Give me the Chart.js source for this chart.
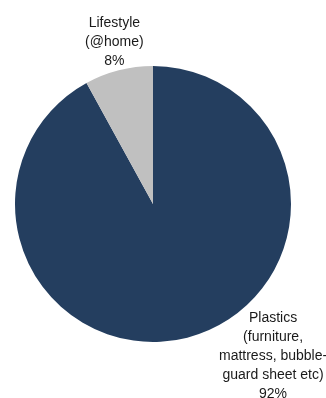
<!DOCTYPE html>
<html>
<head>
<meta charset="utf-8">
<script src="https://cdn.jsdelivr.net/npm/chart.js@4/dist/chart.umd.min.js"></script>
<style>
  html, body { margin: 0; padding: 0; background: #fff; }
  #wrap { width: 326px; height: 398px; }
</style>
</head>
<body>
<div id="wrap"><canvas id="pie" width="326" height="398"></canvas></div>
<script>
const categories = ['Plastics', 'Lifestyle']
const shares = [92, 8]
const labelLines = [
  ['Plastics', '(furniture,', 'mattress, bubble-', 'guard sheet etc)'],
  ['Lifestyle', '(@home)']
]
const sliceColors = ['#243E5F', '#C0C0C0']

// label block centres, in units of the pie radius from the pie centre
const labelAnchors = [
  { dx: 0.87, dy: 1.1 },
  { dx: -0.28, dy: -1.17 }
]

const sliceLabels = {
  id: 'sliceLabels',
  afterDatasetsDraw(chart) {
    const ctx = chart.ctx
    const meta = chart.getDatasetMeta(0)
    ctx.save()
    ctx.font = '14px "Liberation Sans", Arial, sans-serif'
    ctx.fillStyle = '#1a1a1a'
    ctx.textAlign = 'center'
    ctx.textBaseline = 'middle'
    const lineH = 19
    meta.data.forEach((arc, i) => {
      const r = arc.outerRadius
      const cx = arc.x + labelAnchors[i].dx * r
      const cy = arc.y + labelAnchors[i].dy * r
      const lines = labelLines[i].concat([shares[i] + '%'])
      const top = cy - (lines.length - 1) * lineH / 2
      lines.forEach((t, j) => ctx.fillText(t, cx, top + j * lineH))
    })
    ctx.restore()
  }
}

new Chart(document.getElementById('pie'), {
  type: 'pie',
  data: {
    labels: categories,
    datasets: [{
      data: shares,
      backgroundColor: sliceColors,
      borderWidth: 0
    }]
  },
  options: {
    responsive: false,
    animation: false,
    layout: { padding: { left: 15, right: 35, top: 66, bottom: 56 } },
    plugins: {
      legend: { display: false },
      tooltip: { enabled: false }
    }
  },
  plugins: [sliceLabels]
})
</script>
</body>
</html>
